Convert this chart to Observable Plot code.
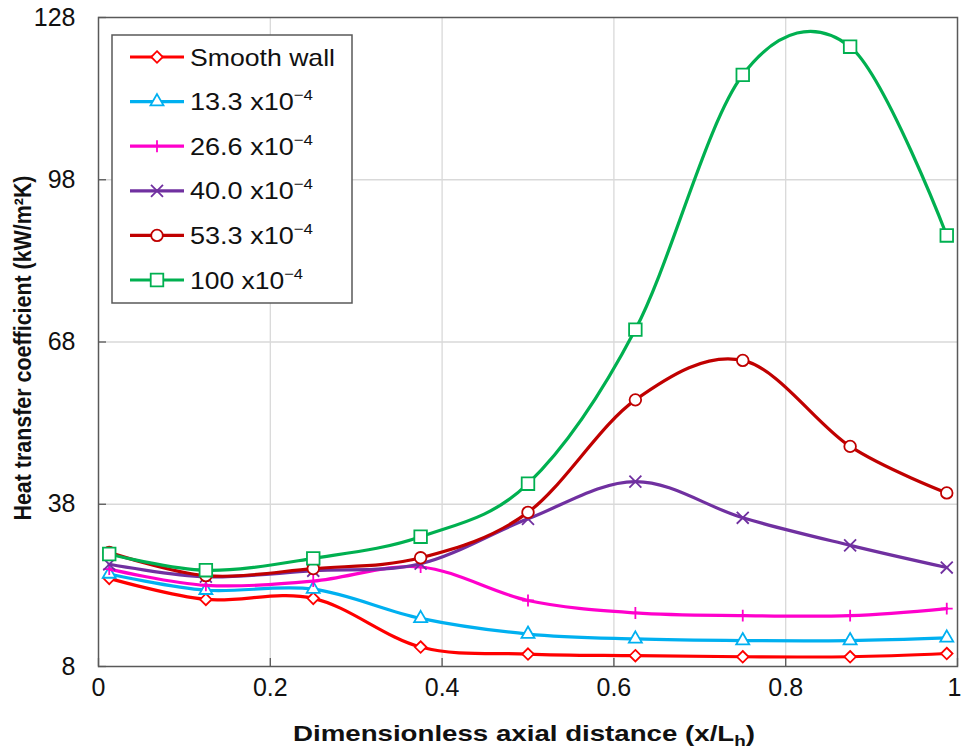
<!DOCTYPE html>
<html><head><meta charset="utf-8">
<script src="https://cdn.jsdelivr.net/npm/d3@7"></script>
<script src="https://cdn.jsdelivr.net/npm/@observablehq/plot@0.6"></script>
<style>body{margin:0;background:#fff;} #chart{width:962px;height:749px;}</style>
</head><body><div id="chart"></div>
<script>
// ---- data ----
const xPos = [0.0125, 0.125, 0.25, 0.375, 0.5, 0.625, 0.75, 0.875, 0.9875];
const smoothWall = [24.3, 20.4, 20.6, 11.6, 10.3, 10.0, 9.8, 9.8, 10.4];
const rough133 = [25.1, 22.1, 22.3, 16.9, 14.0, 13.1, 12.8, 12.8, 13.3];
const rough266 = [26.0, 23.0, 23.8, 26.4, 20.2, 17.9, 17.4, 17.4, 18.7];
const rough400 = [26.9, 24.6, 25.7, 27.0, 35.3, 42.2, 35.5, 30.4, 26.3];
const rough533 = [29.1, 24.8, 26.1, 28.1, 36.5, 57.3, 64.6, 48.7, 40.1];
const rough1000 = [28.8, 25.8, 28.0, 32.0, 41.8, 70.3, 117.4, 122.6, 87.7];
const seriesNames = ["Smooth wall", "13.3", "26.6", "40.0", "53.3", "100"];
const legendSuffix = ["", " x10", " x10", " x10", " x10", " x10"];
const yTicks = [8, 38, 68, 98, 128];
const xTicks = [0, 0.2, 0.4, 0.6, 0.8, 1];
const xTickLabels = ["0", "0.2", "0.4", "0.6", "0.8", "1"];
const xTitle = "Dimensionless axial distance (x/L";
const xTitleSub = "h";
const yTitle = "Heat transfer coefficient (kW/m²K)";

// ---- styles ----
const colors = ["#FF0000", "#00B0F0", "#FF00CC", "#7030A0", "#C00000", "#00B050"];
const symbols = ["diamond2", "triangle2", "plus", "times", "circle", "square2"];
const d3Symbols = [d3.symbolDiamond2, d3.symbolTriangle2, d3.symbolPlus, d3.symbolTimes, d3.symbolCircle, d3.symbolSquare2];
const radii = [5.2, 6.2, 3.9, 5.5, 5.8, 8];

const allSeries = [smoothWall, rough133, rough266, rough400, rough533, rough1000];
const tables = allSeries.map((vals, i) => xPos.map((x, j) => ({x, y: vals[j], s: seriesNames[i]})));

const gridColor = "#d9d9d9";
const axisColor = "#595959";
const fmtX = d => xTickLabels[xTicks.indexOf(d)];

const marks = [
  Plot.gridX(xTicks.slice(1, -1), {stroke: gridColor, strokeOpacity: 1, strokeWidth: 1.3}),
  Plot.gridY(yTicks.slice(1, -1), {stroke: gridColor, strokeOpacity: 1, strokeWidth: 1.3}),
  Plot.axisY(yTicks, {tickSize: 8, dx: 8, tickFormat: () => "", label: null, stroke: axisColor, strokeWidth: 1.3}),
  Plot.axisX(xTicks, {tickSize: 8, dy: -8, tickFormat: () => "", label: null, stroke: axisColor, strokeWidth: 1.3}),
  Plot.axisY(yTicks, {tickSize: 0, tickPadding: 23, fontSize: 25, label: null, fill: "#111"}),
  Plot.axisX(xTicks.slice(0, -1), {tickSize: 0, tickPadding: 12, fontSize: 25, label: null, fill: "#111", tickFormat: fmtX}),
  Plot.axisX(xTicks.slice(-1), {tickSize: 0, tickPadding: 12, fontSize: 25, label: null, fill: "#111", tickFormat: fmtX,
    textAnchor: "end", dx: 4})
];
tables.forEach((t, i) => {
  marks.push(Plot.line(t, {x: "x", y: "y", stroke: colors[i], strokeWidth: 3.2, curve: "cardinal", tension: 0}));
  marks.push(Plot.dot(t, {x: "x", y: "y", symbol: symbols[i], r: radii[i], stroke: colors[i], fill: "white", strokeWidth: 1.8}));
});
marks.push(Plot.frame({stroke: axisColor, strokeWidth: 1.5}));

const plot = Plot.plot({
  width: 962, height: 749,
  marginLeft: 98, marginRight: 5, marginTop: 17, marginBottom: 83,
  x: {domain: [0, 1]},
  y: {domain: [8, 128]},
  style: {fontFamily: "'Liberation Sans', Arial, sans-serif", background: "white", color: "#111"},
  marks
});
document.getElementById("chart").appendChild(plot);

const svg = d3.select(plot);
const font = "'Liberation Sans', Arial, sans-serif";

// axis titles
const xt = svg.append("text")
  .attr("x", 524).attr("y", 741).attr("text-anchor", "middle")
  .attr("font-family", font).attr("font-weight", "bold").attr("font-size", 22).attr("fill", "#111")
  .attr("textLength", 462).attr("lengthAdjust", "spacingAndGlyphs");
xt.append("tspan").text(xTitle);
xt.append("tspan").attr("dy", 5).attr("font-size", 15).text(xTitleSub);
xt.append("tspan").attr("dy", -5).text(")");

svg.append("text")
  .attr("transform", "translate(31,348) rotate(-90)").attr("text-anchor", "middle")
  .attr("font-family", font).attr("font-weight", "bold").attr("font-size", 24).attr("fill", "#111")
  .attr("textLength", 345).attr("lengthAdjust", "spacingAndGlyphs")
  .text(yTitle);

// legend
const lg = svg.append("g").attr("text-anchor", "start");
lg.append("rect").attr("x", 112).attr("y", 35).attr("width", 240).attr("height", 268)
  .attr("fill", "white").attr("stroke", axisColor).attr("stroke-width", 1.5);
const legendWidths = [145, 123, 123, 123, 123, 113];
seriesNames.forEach((name, i) => {
  const cy = 57 + i * 44.6;
  lg.append("line").attr("x1", 130).attr("x2", 184).attr("y1", cy).attr("y2", cy)
    .attr("stroke", colors[i]).attr("stroke-width", 3.2);
  lg.append("path").attr("transform", `translate(157,${cy})`)
    .attr("d", d3.symbol(d3Symbols[i], Math.PI * radii[i] * radii[i])())
    .attr("fill", "white").attr("stroke", colors[i]).attr("stroke-width", 1.8);
  const t = lg.append("text").attr("x", 190).attr("y", cy + 8.5).attr("text-anchor", "start")
    .attr("font-family", font).attr("font-size", 24).attr("fill", "#111")
    .attr("textLength", legendWidths[i]).attr("lengthAdjust", "spacingAndGlyphs");
  t.append("tspan").text(name + legendSuffix[i]);
  if (legendSuffix[i]) t.append("tspan").attr("dy", -10).attr("font-size", 15).text("\u2212" + "4");
});
</script>
</body></html>
